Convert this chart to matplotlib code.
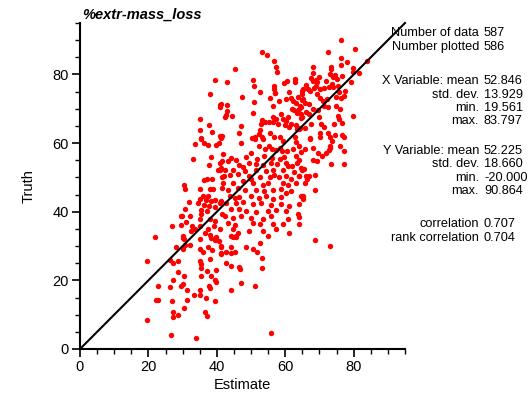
import matplotlib
matplotlib.use("Agg")
import matplotlib.pyplot as plt
from matplotlib.ticker import MultipleLocator

plt.rcParams["font.family"] = ["Liberation Sans", "DejaVu Sans"]

# (estimate, truth) pairs, grouped by region
pts_upper_left = [
    (39.4, 78.5), (38.0, 74.3), (41.0, 71.0), (41.0, 70.4), (35.0, 66.9), (37.7, 65.2),
    (35.0, 63.7), (38.6, 63.3), (35.4, 61.3), (41.4, 62.1), (42.3, 67.6),
]
pts_upper_mid = [
    (53.3, 86.5), (54.7, 85.8), (56.6, 83.8), (57.3, 82.3), (57.5, 80.8), (45.3, 81.6),
    (42.9, 77.9), (50.7, 78.5), (50.9, 76.6), (52.5, 75.0), (56.6, 76.5), (56.6, 75.8),
    (59.5, 77.6), (60.4, 78.2), (62.8, 78.8), (62.8, 77.8), (56.9, 74.7), (57.1, 74.6),
    (61.2, 74.8), (65.0, 75.3), (47.4, 73.4), (55.4, 73.1), (58.1, 72.3), (60.3, 72.8),
    (61.6, 73.2), (62.2, 72.2), (63.8, 73.4), (50.8, 72.0), (56.3, 70.9), (63.1, 71.8),
    (64.4, 70.9), (65.0, 72.5), (41.1, 71.5), (42.9, 71.2), (43.0, 69.5), (44.4, 67.9),
    (42.8, 68.1), (50.6, 68.9), (62.0, 69.8), (62.6, 69.6), (64.0, 70.0), (63.3, 68.7),
    (64.5, 68.6), (64.7, 67.2), (47.1, 65.1), (46.6, 63.0), (53.3, 66.7), (52.8, 65.5),
    (54.1, 66.2), (55.2, 66.1), (56.4, 67.6), (56.5, 66.2), (57.3, 67.1), (58.0, 65.5),
    (58.8, 68.4), (59.3, 67.1), (60.2, 66.5), (60.9, 67.6), (59.9, 65.3), (61.2, 64.7),
    (61.6, 65.5), (63.1, 65.4), (63.5, 64.0), (64.4, 64.4), (52.5, 63.8), (52.3, 62.6),
    (53.2, 61.9), (55.4, 62.9), (56.7, 61.9), (58.5, 61.9), (50.4, 61.6), (51.3, 61.7),
    (41.0, 62.2), (59.3, 60.7), (62.7, 61.9),
]
pts_upper_right = [
    (76.2, 90.0), (72.6, 86.6), (80.4, 87.3), (76.4, 84.7), (78.1, 83.5), (83.9, 83.8),
    (79.7, 81.9), (79.8, 80.6), (81.6, 80.3), (76.3, 82.9), (73.3, 82.3), (73.3, 81.5),
    (68.0, 82.1), (68.1, 80.4), (70.0, 79.2), (73.2, 80.1), (73.9, 79.2), (74.5, 79.9),
    (76.5, 79.6), (75.0, 78.6), (79.1, 77.9), (67.5, 78.9), (68.0, 78.2), (69.0, 78.4),
    (69.4, 77.7), (71.8, 78.2), (66.1, 76.8), (66.6, 75.8), (67.2, 75.3), (68.4, 76.0),
    (69.1, 76.5), (70.1, 75.8), (71.3, 76.0), (72.7, 76.3), (73.6, 77.3), (74.1, 76.3),
    (75.3, 76.5), (75.6, 74.8), (77.5, 75.2), (65.1, 75.8), (64.9, 74.3), (65.3, 72.9),
    (69.4, 74.3), (70.1, 73.1), (71.1, 72.4), (72.3, 72.9), (74.8, 73.4), (76.3, 73.0),
    (77.2, 73.6), (65.8, 71.6), (67.0, 71.4), (64.6, 70.4), (68.0, 70.0), (69.7, 69.7),
    (71.4, 70.7), (72.6, 70.4), (74.8, 70.9), (75.9, 70.0), (79.7, 67.9), (66.1, 69.1),
    (67.0, 68.6), (69.9, 67.7), (75.3, 68.0), (75.7, 67.0), (64.9, 67.5), (67.5, 65.6),
    (70.3, 65.6), (71.3, 64.7), (74.2, 65.7), (76.5, 65.8), (64.1, 64.0), (65.8, 64.5),
    (67.3, 61.6), (70.2, 63.0), (72.6, 62.9), (73.2, 61.7), (74.5, 62.3), (76.6, 62.3),
]
pts_mid_left = [
    (35.5, 61.4), (33.7, 59.6), (36.2, 60.1), (37.4, 59.5), (39.8, 59.4), (40.5, 60.1),
    (33.0, 55.3), (38.4, 55.9), (37.7, 53.5), (40.8, 54.2), (41.6, 54.8), (40.3, 52.2),
    (41.0, 52.3), (38.7, 49.6), (37.2, 49.5), (36.3, 49.3), (41.4, 50.2), (30.3, 47.8),
    (30.6, 46.5), (37.9, 46.7), (39.0, 46.7), (35.1, 46.5), (41.5, 46.9), (35.9, 44.7),
    (37.4, 44.7), (35.0, 43.7), (36.9, 43.5), (38.4, 43.1), (39.6, 43.5), (40.8, 42.6),
    (31.9, 42.8), (34.5, 42.5), (36.3, 42.0), (37.7, 41.6), (39.4, 41.4), (30.6, 40.7),
    (35.5, 40.5), (37.0, 40.3), (35.5, 39.4), (29.9, 38.9), (29.4, 38.8), (32.3, 38.8),
    (41.5, 39.2), (35.1, 38.0), (37.9, 37.8), (39.6, 37.3), (26.9, 35.8), (29.5, 36.0),
    (31.1, 37.0), (32.8, 35.9), (35.2, 35.7), (37.4, 35.0), (39.3, 35.7), (40.8, 35.0),
    (32.5, 34.5), (33.5, 35.0), (36.4, 33.9), (37.9, 33.3), (39.8, 32.7), (21.9, 32.5),
    (30.1, 33.0), (30.4, 32.0),
]
pts_center = [
    (41.3, 61.4), (47.1, 60.1), (51.1, 61.3), (53.6, 61.3), (52.3, 59.1), (55.2, 59.3),
    (54.2, 58.4), (56.2, 58.4), (57.3, 58.0), (58.4, 58.7), (59.1, 57.8), (60.6, 57.8),
    (62.2, 58.3), (63.0, 60.2), (64.0, 59.3), (64.5, 57.4), (41.8, 56.8), (44.2, 55.8),
    (45.7, 55.1), (43.2, 54.8), (48.4, 55.9), (49.9, 57.1), (51.8, 55.5), (53.8, 56.1),
    (56.2, 55.8), (58.6, 55.5), (59.5, 56.0), (63.0, 56.2), (64.0, 55.1), (46.6, 53.6),
    (47.6, 53.0), (49.3, 54.2), (51.5, 54.0), (53.4, 53.6), (55.8, 54.2), (57.7, 53.9),
    (60.2, 54.2), (60.9, 53.4), (62.1, 53.2), (63.3, 54.2), (41.3, 52.7), (42.3, 52.1),
    (44.7, 52.3), (48.1, 51.8), (51.5, 52.3), (54.4, 51.8), (56.3, 52.3), (59.2, 52.1),
    (62.6, 51.5), (65.0, 52.3), (42.0, 50.4), (43.7, 50.6), (46.2, 50.9), (49.4, 50.4),
    (50.1, 49.6), (52.5, 50.2), (55.4, 50.0), (56.8, 50.6), (58.3, 50.0), (60.2, 50.4),
    (61.7, 49.5), (64.0, 50.4), (41.8, 48.4), (44.7, 48.4), (47.6, 48.9), (50.5, 48.4),
    (53.4, 47.9), (54.9, 48.4), (59.2, 48.4), (60.7, 47.9), (63.1, 48.4), (43.2, 46.4),
    (46.2, 46.9), (48.1, 46.2), (51.5, 46.4), (53.9, 45.9), (56.3, 46.2), (58.8, 46.5),
    (60.2, 45.4), (61.7, 45.9), (43.7, 44.7), (45.2, 44.1), (46.6, 44.4), (50.0, 44.5),
    (52.3, 44.1), (54.4, 44.5), (56.3, 43.8), (58.8, 44.3), (64.6, 44.5), (41.3, 43.1),
    (42.8, 42.6), (45.7, 42.6), (47.6, 42.8), (50.6, 42.2), (53.0, 42.6), (55.9, 41.9),
    (58.8, 42.4), (61.2, 41.7), (64.1, 42.2), (44.2, 40.7), (46.6, 40.8), (48.5, 40.1),
    (51.5, 39.8), (54.9, 40.1), (57.2, 40.6), (60.2, 40.1), (63.6, 39.2), (42.3, 38.7),
    (44.7, 38.2), (47.1, 38.7), (50.0, 38.2), (53.4, 37.8), (55.8, 38.7), (60.7, 37.8),
    (43.2, 36.6), (45.2, 36.1), (50.5, 36.8), (52.5, 36.3), (56.3, 36.3), (59.2, 36.3),
    (44.7, 34.9), (46.2, 33.9), (49.5, 34.4), (53.4, 34.4), (57.3, 35.1), (64.1, 36.3),
    (61.2, 33.9), (44.2, 33.0), (45.7, 32.5), (55.0, 33.0),
]
pts_mid_right = [
    (67.3, 61.1), (70.2, 61.8), (73.6, 60.7), (77.1, 61.7), (65.7, 58.2), (68.1, 58.6),
    (69.6, 57.0), (70.8, 56.3), (71.8, 57.2), (72.7, 58.0), (73.0, 59.2), (73.2, 58.6),
    (75.9, 59.2), (77.2, 57.7), (68.0, 55.1), (69.3, 54.7), (73.3, 54.0), (77.2, 54.0),
    (64.6, 52.7), (65.6, 52.4), (64.1, 50.3), (66.1, 50.5), (66.9, 50.5), (66.4, 49.5),
    (65.9, 48.4), (68.8, 50.8), (68.7, 46.2), (65.3, 44.5), (65.3, 43.8), (64.1, 38.4),
]
pts_low_left = [
    (30.1, 32.3), (35.2, 32.0), (38.2, 32.4), (39.5, 31.9), (40.6, 31.6), (28.0, 29.6),
    (30.1, 29.2), (30.6, 30.2), (32.2, 30.4), (35.2, 29.2), (35.9, 28.4), (37.4, 29.6),
    (38.6, 28.9), (41.3, 29.6), (41.3, 27.7), (19.6, 25.7), (26.2, 26.0), (27.3, 25.2),
    (28.7, 25.5), (35.0, 25.5), (35.3, 24.7), (37.9, 26.2), (35.5, 23.5), (37.0, 22.7),
    (39.9, 23.0), (28.5, 22.5), (27.3, 20.0), (30.5, 21.2), (35.5, 21.2), (38.4, 21.2),
    (39.4, 20.2), (22.8, 18.3), (26.2, 18.2), (29.5, 18.3), (30.2, 18.8), (31.3, 17.2),
    (35.0, 17.2), (37.7, 18.3), (38.1, 17.7), (39.9, 19.4), (33.4, 15.6), (35.0, 15.8),
    (36.9, 14.9), (22.2, 14.2), (22.8, 14.2), (27.0, 14.0), (31.3, 14.2), (39.6, 13.9),
    (30.3, 12.0), (27.2, 10.8), (28.6, 9.9), (27.1, 9.2), (36.6, 10.8), (37.2, 9.6),
    (19.6, 8.4), (26.7, 4.0), (33.8, 3.3),
]
pts_low_right = [
    (44.7, 32.7), (45.6, 33.0), (41.3, 30.1), (42.8, 28.4), (44.2, 29.6), (44.2, 28.0),
    (45.4, 28.2), (41.3, 27.9), (48.4, 29.8), (50.5, 29.1), (51.8, 28.4), (52.5, 30.9),
    (53.3, 26.6), (42.8, 25.1), (44.0, 24.3), (46.6, 23.8), (46.8, 23.2), (53.3, 23.6),
    (47.0, 19.3), (44.2, 17.3), (51.2, 18.3), (55.7, 4.8), (68.7, 31.7), (73.1, 30.1),
]

title = "%extr-mass_loss"
stat_labels = ["Number of data", "Number plotted",
               "X Variable: mean", "std. dev.", "min.", "max.",
               "Y Variable: mean", "std. dev.", "min.", "max.",
               "correlation", "rank correlation"]
stat_values = ["587", "586", "52.846", "13.929", "19.561", "83.797",
               "52.225", "18.660", "-20.000", "90.864", "0.707", "0.704"]
stat_rows = [33.5, 47, 81, 94.5, 108, 121.5, 151, 164.5, 178, 191.5, 224, 238]  # pixel rows

groups = [pts_upper_left, pts_upper_mid, pts_upper_right, pts_mid_left, pts_center,
          pts_mid_right, pts_low_left, pts_low_right]
points = [p for g in groups for p in g]
estimate = [p[0] for p in points]
truth = [p[1] for p in points]

W, H = 530, 394
fig = plt.figure(figsize=(W / 100, H / 100), dpi=100)
ax = fig.add_axes([80 / W, 1 - 349 / H, 325 / W, 326 / H])

ax.scatter(estimate, truth, s=15, color="#ff0000", linewidths=0, zorder=2)
ax.plot([0, 95], [0, 95], color="black", lw=1.5, zorder=3, clip_on=False)

ax.set_xlim(0, 95)
ax.set_ylim(0, 95)
for side in ["top", "right"]:
    ax.spines[side].set_visible(False)
for side in ["left", "bottom"]:
    ax.spines[side].set_linewidth(1.5)
ax.xaxis.set_major_locator(MultipleLocator(20))
ax.yaxis.set_major_locator(MultipleLocator(20))
ax.xaxis.set_minor_locator(MultipleLocator(5))
ax.yaxis.set_minor_locator(MultipleLocator(5))
ax.tick_params(which="major", length=6, width=1.2, labelsize=10.5, pad=2)
ax.tick_params(which="minor", length=3.5, width=1.0)

ax.set_xlabel("Estimate", fontsize=10.5, labelpad=3)
ax.set_ylabel("Truth", fontsize=10.5, labelpad=12)

fig.text(82 / W, 1 - 15 / H, title, fontsize=10.5, fontweight="bold",
         fontstyle="italic", va="center", ha="left")

for lab, val, row in zip(stat_labels, stat_values, stat_rows):
    fig.text(479 / W, 1 - row / H, lab, fontsize=9.2, ha="right", va="center")
    fig.text(484 / W, 1 - row / H, val, fontsize=9.2, ha="left", va="center")

fig.savefig("out.png", dpi=100)
